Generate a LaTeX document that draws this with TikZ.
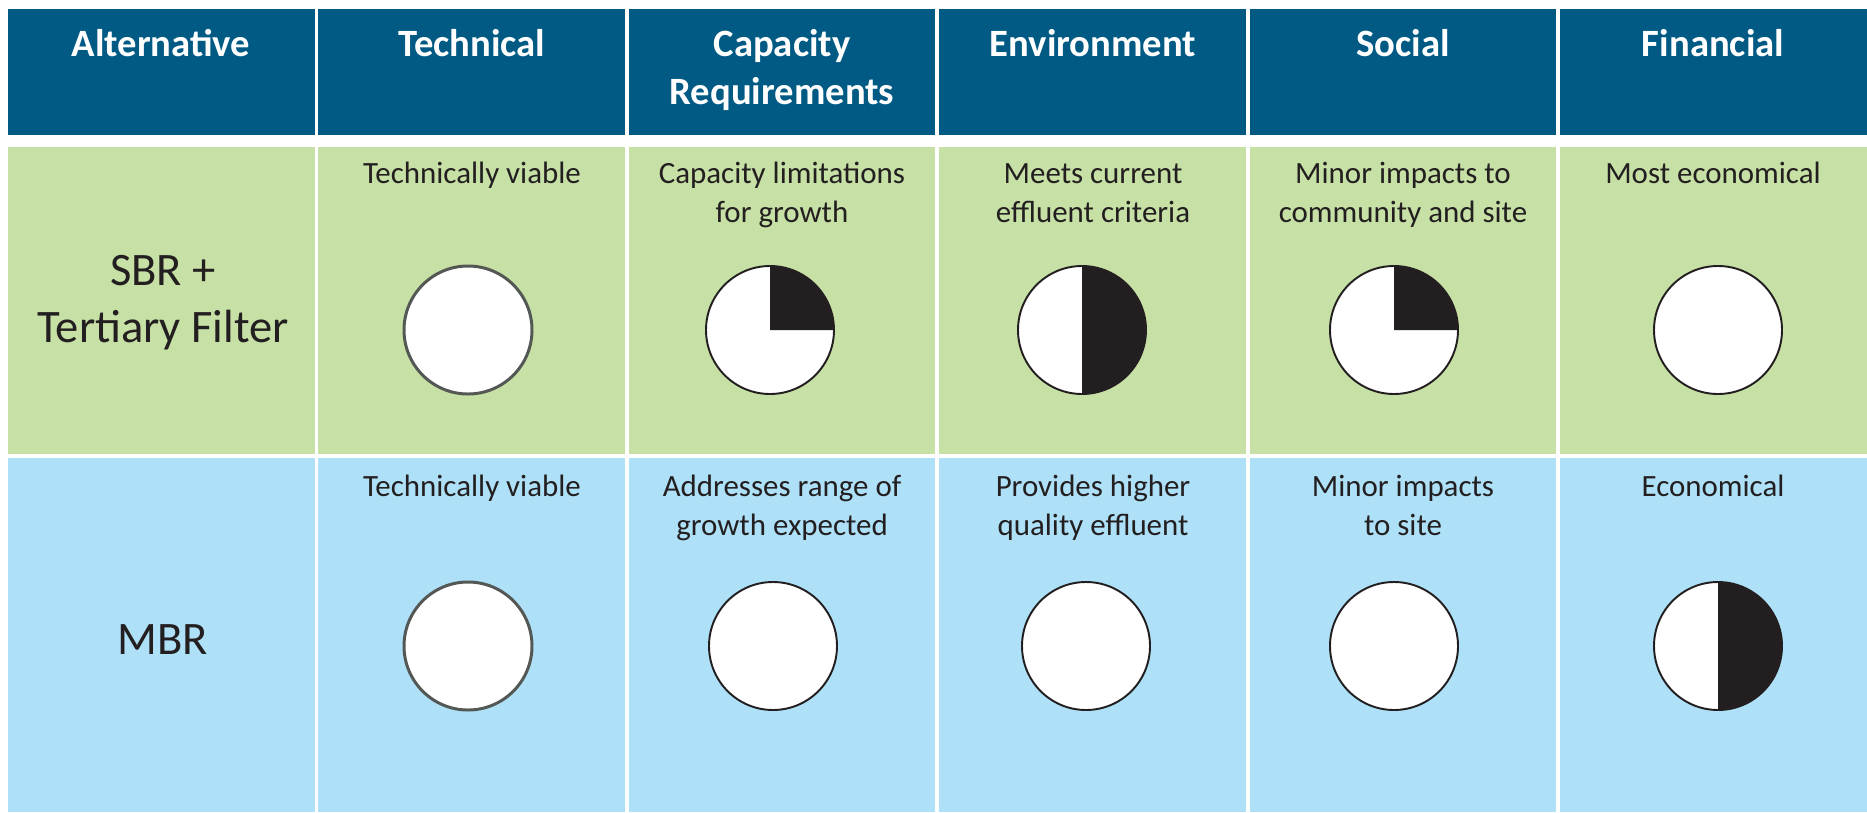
\documentclass[tikz,border=0pt]{standalone}
\usepackage{fontspec}
\setmainfont{Carlito}
\definecolor{headblue}{RGB}{0,90,132}
\definecolor{rowgreen}{RGB}{198,224,165}
\definecolor{rowblue}{RGB}{174,225,248}
\definecolor{inkblack}{RGB}{35,31,32}
\definecolor{ringgray}{RGB}{84,88,84}
\begin{document}
\begin{tikzpicture}[line cap=round,line join=round,x=0.02cm,y=-0.02cm,
		headtext/.style={anchor=base,align=center,text=white,font=\fontsize{22}{27.2}\selectfont\bfseries},
		celltext/.style={anchor=base,align=center,text=inkblack,font=\fontsize{17.6}{22.1}\selectfont},
		alttext/.style={anchor=base,align=center,text=inkblack,font=\fontsize{26.5}{32.3}\selectfont},
		ring/.style={draw=inkblack,line width=1.1pt},
		techring/.style={draw=ringgray,line width=1.7pt}]
			\useasboundingbox (0,0) rectangle (1867,812);
			% cells
			\foreach \i in {0,...,5}{
				\fill[headblue] (8+310.4*\i,9) rectangle ++(306.5,126);
				\fill[rowgreen] (8+310.4*\i,147) rectangle ++(306.5,307);
				\fill[rowblue] (8+310.4*\i,458) rectangle ++(306.5,354);
			}
			% header (two-line nodes sit on their last baseline)
			\node[headtext] (hAlt) at (161,56) {Alternative};
			\node[headtext] (hTech) at (472,56) {Technical};
			\node[headtext] (hCap) at (782,104) {Capacity\\Requirements};
			\node[headtext] (hEnv) at (1093,56) {Environment};
			\node[headtext] (hSoc) at (1403,56) {Social};
			\node[headtext] (hFin) at (1713,56) {Financial};
			% SBR row
			\node[alttext] (aSBR) at (163,342) {SBR +\\Tertiary Filter};
			\node[celltext] (sTech) at (472,183) {Technically viable};
			\node[celltext] (sCap) at (782,222) {Capacity limitations\\for growth};
			\node[celltext] (sEnv) at (1093,222) {Meets current\\effluent criteria};
			\node[celltext] (sSoc) at (1403,222) {Minor impacts to\\community and site};
			\node[celltext] (sFin) at (1713,183) {Most economical};
			\filldraw[fill=white,techring] (468,330) circle (64);
			\fill[white] (770,330) circle (64);
			\fill[inkblack] (770,330) -- ++(0:64) arc (0:-90:64) -- cycle;
			\draw[ring] (770,330) circle (64);
			\fill[white] (1082,330) circle (64);
			\fill[inkblack] (1082,330) -- ++(90:64) arc (90:-90:64) -- cycle;
			\draw[ring] (1082,330) circle (64);
			\fill[white] (1394,330) circle (64);
			\fill[inkblack] (1394,330) -- ++(0:64) arc (0:-90:64) -- cycle;
			\draw[ring] (1394,330) circle (64);
			\filldraw[fill=white,ring] (1718,330) circle (64);
			% MBR row
			\node[alttext] (aMBR) at (163,654) {MBR};
			\node[celltext] (mTech) at (472,496) {Technically viable};
			\node[celltext] (mCap) at (782,535) {Addresses range of\\growth expected};
			\node[celltext] (mEnv) at (1093,535) {Provides higher\\quality effluent};
			\node[celltext] (mSoc) at (1403,535) {Minor impacts\\to site};
			\node[celltext] (mFin) at (1713,496) {Economical};
			\filldraw[fill=white,techring] (468,646) circle (64);
			\filldraw[fill=white,ring] (773,646) circle (64);
			\filldraw[fill=white,ring] (1086,646) circle (64);
			\filldraw[fill=white,ring] (1394,646) circle (64);
			\fill[white] (1718,646) circle (64);
			\fill[inkblack] (1718,646) -- ++(90:64) arc (90:-90:64) -- cycle;
			\draw[ring] (1718,646) circle (64);
		\end{tikzpicture}
\end{document}
